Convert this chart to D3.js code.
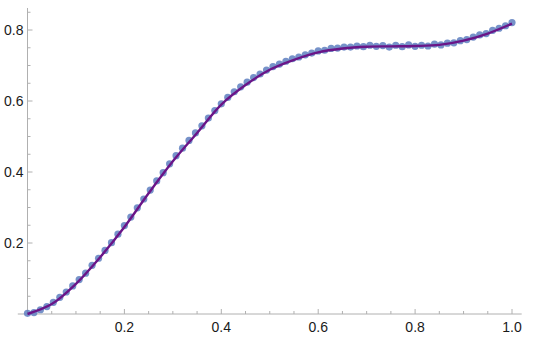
<!DOCTYPE html>
<html>
<head>
<meta charset="utf-8">
<script src="https://cdn.jsdelivr.net/npm/d3@7"></script>
<style>
  body { margin: 0; background: #fff; }
  svg { display: block; font-family: "Liberation Sans", Arial, sans-serif; }
</style>
</head>
<body>
<div id="container-div"></div>
<script>
// sample points (x = i/75)
var pointY = [
  0.002, 0.004, 0.012, 0.021, 0.033, 0.047, 0.062, 0.079, 0.097, 0.115,
  0.137, 0.157, 0.179, 0.201, 0.225, 0.249, 0.273, 0.299, 0.324, 0.349,
  0.375, 0.398, 0.423, 0.446, 0.467, 0.489, 0.510, 0.530, 0.552, 0.573,
  0.592, 0.610, 0.626, 0.640, 0.653, 0.666, 0.676, 0.687, 0.697, 0.704,
  0.712, 0.719, 0.724, 0.730, 0.735, 0.741, 0.743, 0.748, 0.749, 0.752,
  0.752, 0.755, 0.753, 0.757, 0.754, 0.756, 0.752, 0.757, 0.753, 0.758,
  0.754, 0.757, 0.755, 0.760, 0.758, 0.763, 0.764, 0.770, 0.773, 0.780,
  0.786, 0.790, 0.799, 0.805, 0.812, 0.821
];

// fitted curve knots
var fitX = [0, 0.05, 0.1, 0.15, 0.2, 0.25, 0.3, 0.35, 0.4, 0.45, 0.5,
            0.55, 0.6, 0.65, 0.7, 0.75, 0.8, 0.85, 0.9, 0.95, 1.0];
var fitY = [0.0, 0.028, 0.085, 0.16, 0.245, 0.34, 0.43, 0.51, 0.59, 0.645, 0.688,
            0.716, 0.737, 0.748, 0.753, 0.754, 0.755, 0.758, 0.770, 0.790, 0.818];

var xTicks = [0.2, 0.4, 0.6, 0.8, 1.0];
var yTicks = [0.2, 0.4, 0.6, 0.8];

var points = pointY.map(function (v, i) { return { x: i / 75, y: v }; });
var fit = fitX.map(function (v, i) { return { x: v, y: fitY[i] }; });

var width = 540, height = 342;

var viz = d3.select("#container-div").append("svg")
    .attr("width", width)
    .attr("height", height);

var x = d3.scaleLinear().domain([0, 1]).range([27.5, 512]);
var y = d3.scaleLinear().domain([0, 0.8]).range([314, 30]);

var axisColor = "#b0b0b0";

// minor ticks every 0.05
var xMinor = d3.range(0.05, 1.001, 0.05).filter(function (d) { return Math.abs(d * 5 - Math.round(d * 5)) > 1e-6; });
var yMinor = d3.range(0.05, 0.851, 0.05).filter(function (d) { return Math.abs(d * 5 - Math.round(d * 5)) > 1e-6; });

// x axis
var gx = viz.append("g").attr("transform", "translate(0," + y(0) + ")");
gx.append("line")
    .attr("x1", x(-0.02)).attr("x2", x(1.02))
    .attr("stroke", axisColor).attr("stroke-width", 1);
gx.selectAll(".minor").data(xMinor).enter().append("line")
    .attr("x1", x).attr("x2", x)
    .attr("y1", 0).attr("y2", -3)
    .attr("stroke", axisColor);
gx.selectAll(".major").data(xTicks).enter().append("line")
    .attr("x1", x).attr("x2", x)
    .attr("y1", 0).attr("y2", -5)
    .attr("stroke", axisColor);
gx.selectAll("text").data(xTicks).enter().append("text")
    .attr("x", x)
    .attr("y", 18)
    .attr("text-anchor", "middle")
    .attr("font-size", 14)
    .attr("fill", "#1a1a1a")
    .text(function (d) { return d.toFixed(1); });

// y axis
var gy = viz.append("g").attr("transform", "translate(" + x(0) + ",0)");
gy.append("line")
    .attr("y1", y(0)).attr("y2", y(0.862))
    .attr("stroke", axisColor).attr("stroke-width", 1);
gy.selectAll(".minor").data(yMinor).enter().append("line")
    .attr("y1", y).attr("y2", y)
    .attr("x1", 0).attr("x2", 3)
    .attr("stroke", axisColor);
gy.selectAll(".major").data(yTicks).enter().append("line")
    .attr("y1", y).attr("y2", y)
    .attr("x1", 0).attr("x2", 5)
    .attr("stroke", axisColor);
gy.selectAll("text").data(yTicks).enter().append("text")
    .attr("x", -4)
    .attr("y", y)
    .attr("dy", "0.35em")
    .attr("text-anchor", "end")
    .attr("font-size", 14)
    .attr("fill", "#1a1a1a")
    .text(function (d) { return d.toFixed(1); });

// data points
viz.append("g").selectAll("circle").data(points).enter().append("circle")
    .attr("cx", function (d) { return x(d.x); })
    .attr("cy", function (d) { return y(d.y); })
    .attr("r", 3.6)
    .attr("fill", "#5e7fc0")
    .attr("fill-opacity", 0.85);

// fitted line
var line = d3.line()
    .x(function (d) { return x(d.x); })
    .y(function (d) { return y(d.y); })
    .curve(d3.curveCatmullRom);

viz.append("path")
    .datum(fit)
    .attr("d", line)
    .attr("fill", "none")
    .attr("stroke", "#6a1588")
    .attr("stroke-width", 2.4);
</script>
</body>
</html>
